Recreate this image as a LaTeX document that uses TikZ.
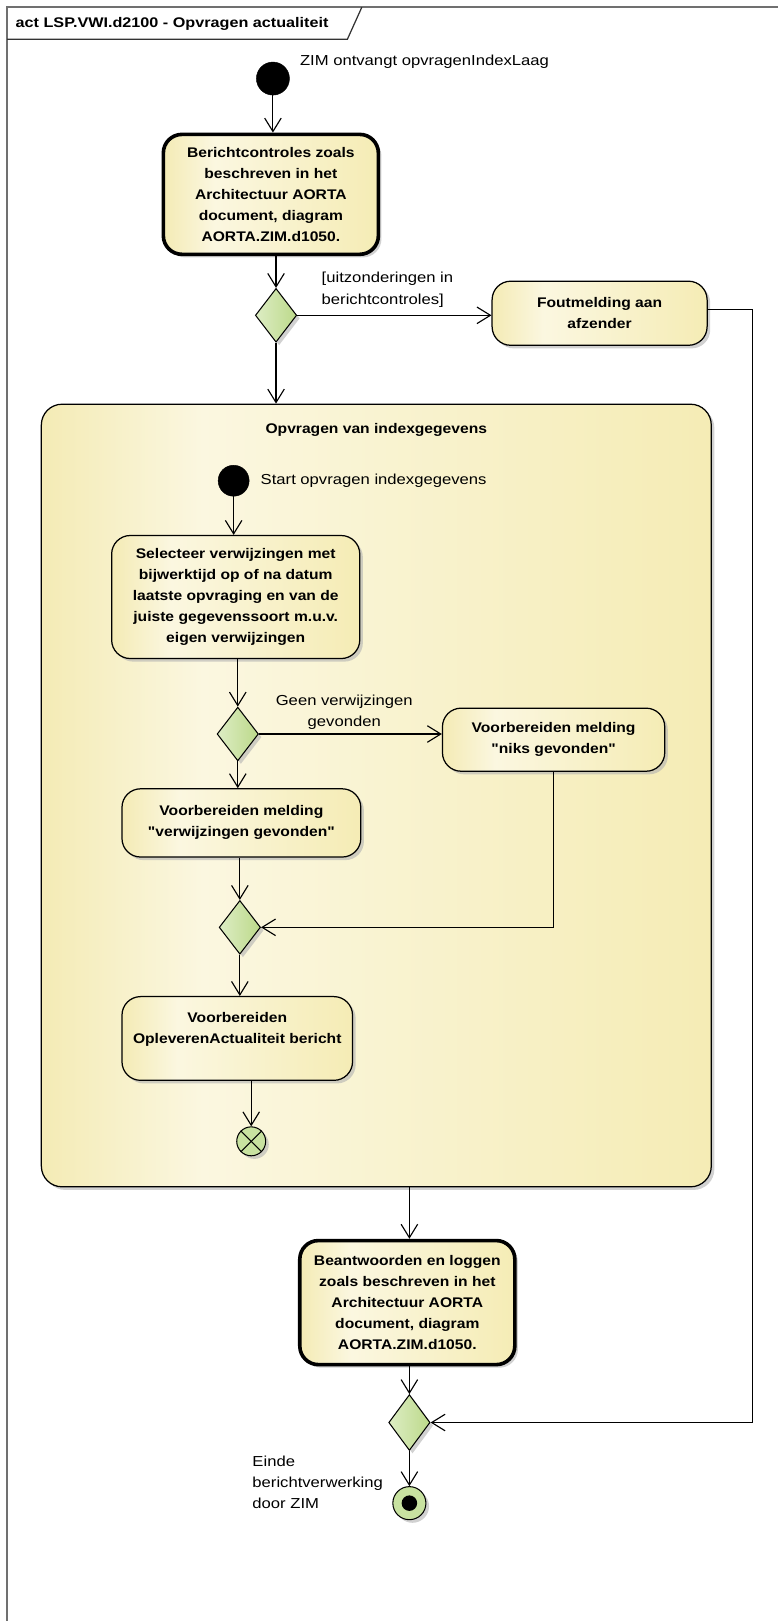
\documentclass[tikz,border=0pt]{standalone}
\usepackage{fontspec}
\setmainfont{Liberation Sans}
\newfontfamily\rfnt[FakeStretch=1.15]{Liberation Sans}
\newfontfamily\bfnt[FakeStretch=1.12]{Liberation Sans Bold}
\newfontfamily\tfnt[FakeStretch=1.16]{Liberation Sans Bold}
\usetikzlibrary{arrows.meta,shapes.geometric,shadows}
\definecolor{yD}{HTML}{F4EBB5}
\definecolor{yL}{HTML}{FBF7E0}
\definecolor{yR}{HTML}{F5ECB5}
\definecolor{gL}{HTML}{DDEDC4}
\definecolor{gR}{HTML}{BCD98A}
\definecolor{gF}{HTML}{C8E2A0}
\definecolor{frc}{HTML}{707070}
\pgfdeclarehorizontalshading{yshade}{100bp}{color(0bp)=(yD); color(25bp)=(yD); color(37bp)=(yL); color(75bp)=(yR); color(100bp)=(yR)}
\begin{document}
\begin{tikzpicture}[x=1pt,y=-1pt,
  arr/.style={draw=black, line width=1.1pt, -{Straight Barb[length=13pt,width=16pt]}},
  shad/.style={drop shadow={shadow xshift=3pt,shadow yshift=-3pt,fill=black!30,opacity=0.6}},
  act/.style={rectangle, rounded corners=18pt, draw=black, line width=1.2pt,
    shading=yshade, shad,
    inner sep=0pt, align=center, font=\bfnt\fontsize{13.5}{20.3}\selectfont},
  thickact/.style={act, line width=3.5pt},
  dia/.style={diamond, draw=black, line width=1pt, minimum width=40pt, minimum height=52pt,
    inner sep=0pt, left color=gL, right color=gR, shad},
  startnode/.style={circle, fill=black, draw=black, minimum size=32pt, inner sep=0pt},
  lbl/.style={font=\rfnt\fontsize{14}{21}\selectfont, inner sep=0pt},
]
\useasboundingbox (0,0) rectangle (752,1568);

% frame
\draw[frc, line width=1.5pt] (7,1575) -- (7,7) -- (760,7);
\draw[black!80, line width=1.2pt] (7,38) -- (336,38) -- (350,7);
\node[anchor=west, inner sep=0pt, font=\tfnt\fontsize{13.5}{16}\selectfont] (title) at (15,23) {act LSP.VWI.d2100 - Opvragen actualiteit};

% group
\node[act, minimum width=648pt, minimum height=757pt, rounded corners=20pt] (grp) at (364,769.5) {};
\node[inner sep=0pt, font=\bfnt\fontsize{13.5}{16}\selectfont] (grpt) at (364,416) {Opvragen van indexgegevens};

% top part
\node[startnode] (start1) at (264,76) {};
\node[lbl, anchor=west] (lzim) at (290,60) {ZIM ontvangt opvragenIndexLaag};
\node[thickact, minimum width=208pt, minimum height=116pt] (act1) at (262,188)
  {Berichtcontroles zoals\\beschreven in het\\Architectuur AORTA\\document, diagram\\AORTA.ZIM.d1050.};
\node[dia] (d1) at (267,305) {};
\node[act, minimum width=208pt, minimum height=62pt] (fout) at (580,303) {Foutmelding aan\\afzender};
\node[lbl, anchor=west, align=left] (lguard) at (311,280) {[uitzonderingen in\\berichtcontroles]};

% inside group
\node[startnode, minimum size=30pt] (start2) at (226,465) {};
\node[lbl, anchor=west] (lstart2) at (252,465) {Start opvragen indexgegevens};
\node[act, minimum width=240pt, minimum height=119pt] (sel) at (228,577.5)
  {Selecteer verwijzingen met\\bijwerktijd op of na datum\\laatste opvraging en van de\\juiste gegevenssoort m.u.v.\\eigen verwijzingen};
\node[dia] (d2) at (230,710) {};
\node[lbl, align=center] (lgeen) at (333,689) {Geen verwijzingen\\gevonden};
\node[act, minimum width=215pt, minimum height=61pt] (niks) at (535.5,715.5) {Voorbereiden melding\\"niks gevonden"};
\node[act, minimum width=231pt, minimum height=66pt] (verw) at (233.5,796) {Voorbereiden melding\\"verwijzingen gevonden"};
\node[dia] (d3) at (232,897) {};
\node[act, minimum width=223pt, minimum height=81pt, text depth=20pt] (opl) at (229.5,1004.5) {Voorbereiden\\OpleverenActualiteit bericht};
\node[circle, draw=black, line width=1pt, fill=gF, minimum size=28pt, inner sep=0pt, shad] (ff) at (243,1104) {};
\draw[line width=1pt] (ff.north west) -- (ff.south east);
\draw[line width=1pt] (ff.north east) -- (ff.south west);

% bottom part
\node[thickact, minimum width=208pt, minimum height=120pt] (bea) at (394,1260)
  {Beantwoorden en loggen\\zoals beschreven in het\\Architectuur AORTA\\document, diagram\\AORTA.ZIM.d1050.};
\node[dia, minimum height=54pt] (d4) at (396,1376) {};
\node[circle, draw=black, line width=1pt, fill=gF, minimum size=32pt, inner sep=0pt, shad] (fin) at (396,1454) {};
\fill[black] (fin.center) circle (7.5);
\node[lbl, anchor=north west, align=left, font=\rfnt\fontsize{14}{20.3}\selectfont] (leinde) at (244,1408) {Einde\\berichtverwerking\\door ZIM};

% connectors
\coordinate (c1) at (728,299);
\draw[arr] (start1) -- (start1 |- act1.north);
\draw[arr] (d1.north |- act1.south) -- (d1.north);
\draw[arr] (d1.east) -- (d1.east -| fout.west);
\draw[arr] (d1.south) -- (d1.south |- grp.north);
\draw[arr] (fout.east |- c1) -- (c1) |- (d4.east);
\draw[arr] (start2) -- (start2 |- sel.north);
\draw[arr] (d2.north |- sel.south) -- (d2.north);
\draw[arr] (d2.east) -- (d2.east -| niks.west);
\draw[arr] (d2.south) -- (d2.south |- verw.north);
\draw[arr] (d3.north |- verw.south) -- (d3.north);
\draw[arr] (niks.south) |- (d3.east);
\draw[arr] (d3.south) -- (d3.south |- opl.north);
\draw[arr] (ff.north |- opl.south) -- (ff.north);
\draw[arr] (d4.north |- grp.south) -- (d4.north |- bea.north);
\draw[arr] (d4.north |- bea.south) -- (d4.north);
\draw[arr] (d4.south) -- (fin.north);
\end{tikzpicture}
\end{document}
